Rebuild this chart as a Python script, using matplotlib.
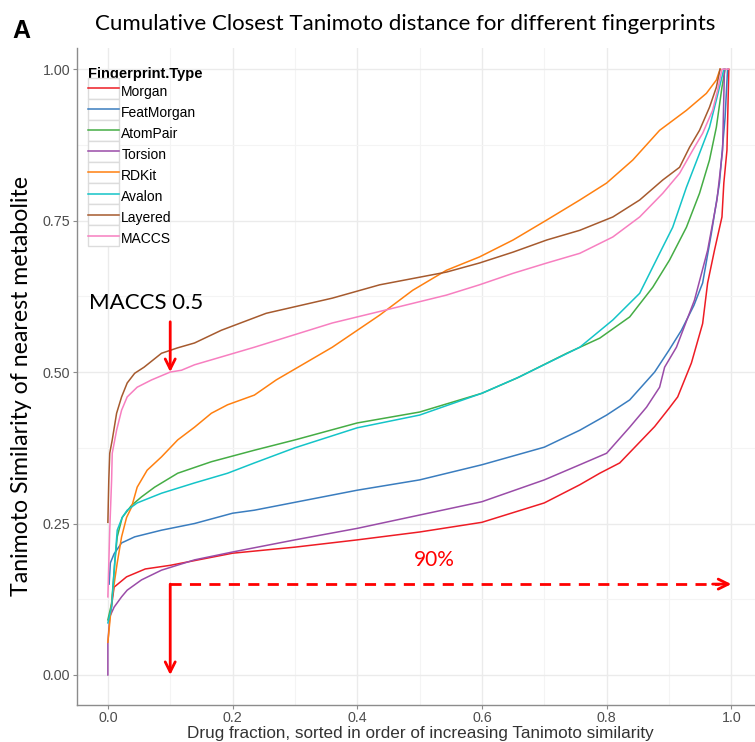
import numpy as np
import matplotlib
matplotlib.use('Agg')
import matplotlib.pyplot as plt
from matplotlib.legend_handler import HandlerLine2D
from matplotlib.patches import Rectangle
from matplotlib.ticker import MultipleLocator

# curve readings (drug fraction, closest Tanimoto similarity)
morgan_x = [0.004, 0.01, 0.03, 0.06, 0.1, 0.2, 0.3, 0.4, 0.5, 0.6, 0.7, 0.757, 0.789, 0.821, 0.877,
            0.9, 0.914, 0.936, 0.954, 0.962, 0.973, 0.985, 0.988, 0.993, 0.996]
morgan_y = [0.10, 0.145, 0.162, 0.175, 0.181, 0.201, 0.211, 0.223, 0.236, 0.252, 0.284, 0.314, 0.333, 0.35, 0.41,
            0.44, 0.459, 0.515, 0.58, 0.647, 0.701, 0.756, 0.812, 0.866, 1.0]

featmorgan_x = [0.002, 0.004, 0.01, 0.022, 0.043, 0.086, 0.139, 0.2, 0.235, 0.3, 0.4, 0.5, 0.6, 0.7, 0.757,
                0.8, 0.837, 0.877, 0.9, 0.92, 0.94, 0.954, 0.968, 0.981, 0.99, 0.994]
featmorgan_y = [0.15, 0.185, 0.2, 0.218, 0.228, 0.239, 0.25, 0.267, 0.272, 0.285, 0.305, 0.322, 0.347, 0.376, 0.404,
                0.429, 0.454, 0.5, 0.536, 0.569, 0.61, 0.647, 0.729, 0.812, 0.92, 1.0]

atompair_x = [0.0, 0.006, 0.011, 0.015, 0.023, 0.038, 0.054, 0.075, 0.112, 0.166, 0.235, 0.3, 0.4, 0.5, 0.6,
              0.656, 0.736, 0.789, 0.837, 0.874, 0.901, 0.928, 0.949, 0.965, 0.976, 0.985, 0.99]
atompair_y = [0.091, 0.118, 0.185, 0.228, 0.26, 0.28, 0.294, 0.31, 0.333, 0.352, 0.371, 0.388, 0.416, 0.434, 0.465,
              0.49, 0.531, 0.556, 0.591, 0.64, 0.685, 0.739, 0.795, 0.85, 0.904, 0.97, 1.0]

torsion_x = [0.0, 0.0, 0.003, 0.01, 0.022, 0.031, 0.054, 0.086, 0.139, 0.2, 0.3, 0.4, 0.5, 0.6, 0.7, 0.757,
             0.8, 0.837, 0.864, 0.885, 0.893, 0.912, 0.941, 0.962, 0.977, 0.986, 0.989]
torsion_y = [0.0, 0.053, 0.096, 0.112, 0.129, 0.14, 0.157, 0.173, 0.19, 0.203, 0.223, 0.242, 0.264, 0.286, 0.322, 0.347,
             0.366, 0.409, 0.442, 0.475, 0.508, 0.541, 0.619, 0.701, 0.784, 0.866, 1.0]

rdkit_x = [0.0, 0.003, 0.007, 0.015, 0.022, 0.03, 0.038, 0.047, 0.063, 0.086, 0.112, 0.139, 0.166, 0.192, 0.235,
           0.27, 0.36, 0.436, 0.489, 0.543, 0.596, 0.65, 0.704, 0.757, 0.8, 0.842, 0.885, 0.928, 0.96, 0.976, 0.982]
rdkit_y = [0.054, 0.086, 0.129, 0.185, 0.228, 0.26, 0.277, 0.31, 0.338, 0.36, 0.388, 0.409, 0.432, 0.446, 0.462,
           0.487, 0.541, 0.594, 0.635, 0.668, 0.69, 0.718, 0.751, 0.784, 0.812, 0.85, 0.899, 0.932, 0.96, 0.982, 1.0]

avalon_x = [0.0, 0.006, 0.011, 0.015, 0.023, 0.031, 0.047, 0.086, 0.139, 0.192, 0.235, 0.3, 0.4, 0.5, 0.6,
            0.66, 0.757, 0.81, 0.853, 0.885, 0.906, 0.928, 0.949, 0.965, 0.976, 0.985, 0.988]
avalon_y = [0.086, 0.112, 0.185, 0.239, 0.26, 0.272, 0.284, 0.3, 0.317, 0.333, 0.35, 0.375, 0.408, 0.429, 0.465,
            0.492, 0.541, 0.586, 0.63, 0.696, 0.739, 0.805, 0.861, 0.904, 0.949, 0.987, 1.0]

layered_x = [0.0, 0.0015, 0.003, 0.007, 0.014, 0.022, 0.031, 0.043, 0.058, 0.086, 0.112, 0.139, 0.182, 0.254,
             0.36, 0.436, 0.543, 0.596, 0.65, 0.704, 0.757, 0.81, 0.853, 0.89, 0.917, 0.933, 0.949, 0.965,
             0.976, 0.982]
layered_y = [0.252, 0.322, 0.366, 0.388, 0.432, 0.459, 0.482, 0.498, 0.508, 0.531, 0.54, 0.548, 0.569, 0.597,
             0.622, 0.644, 0.665, 0.68, 0.698, 0.718, 0.734, 0.756, 0.784, 0.817, 0.838, 0.871, 0.899, 0.937,
             0.97, 1.0]

maccs_x = [0.0, 0.003, 0.006, 0.007, 0.014, 0.022, 0.031, 0.047, 0.07, 0.1, 0.118, 0.139, 0.192, 0.235, 0.36,
           0.436, 0.543, 0.596, 0.65, 0.704, 0.757, 0.81, 0.853, 0.89, 0.917, 0.938, 0.954, 0.97, 0.978, 0.985,
           0.995]
maccs_y = [0.129, 0.239, 0.322, 0.366, 0.404, 0.437, 0.459, 0.475, 0.487, 0.5, 0.503, 0.512, 0.528, 0.541, 0.581,
           0.6, 0.627, 0.644, 0.663, 0.68, 0.696, 0.723, 0.756, 0.795, 0.828, 0.866, 0.894, 0.932, 0.965, 1.0,
           1.0]

fp_names = ['Morgan', 'FeatMorgan', 'AtomPair', 'Torsion', 'RDKit', 'Avalon', 'Layered', 'MACCS']
fp_colors = ['#ee1c25', '#3a7dbf', '#45ad45', '#9a4ca8', '#ff8010', '#14c4c8', '#a65a2e', '#f77fc0']
curves_x = [morgan_x, featmorgan_x, atompair_x, torsion_x, rdkit_x, avalon_x, layered_x, maccs_x]
curves_y = [morgan_y, featmorgan_y, atompair_y, torsion_y, rdkit_y, avalon_y, layered_y, maccs_y]

# annotation anchors
maccs_mark = (0.1, 0.5)
cut_frac = 0.1
cut_sim = 0.15


class BoxedLine(HandlerLine2D):
    # ggplot-like legend key: grey bordered box centred on the line
    def create_artists(self, legend, orig_handle, xdescent, ydescent, width, height, fontsize, trans):
        arts = super().create_artists(legend, orig_handle, xdescent, ydescent, width, height, fontsize, trans)
        yc = (height - ydescent) / 2
        box = Rectangle((-xdescent, yc - height / 2), width, height, facecolor='white',
                        edgecolor='#dcdcdc', linewidth=1.0, transform=trans)
        return [box] + list(arts)


fig = plt.figure(figsize=(7.55, 7.42), dpi=100)
ax = fig.add_axes([0.102, 0.0499, 0.898, 0.8855])

for xs, ys, name, col in zip(curves_x, curves_y, fp_names, fp_colors):
    ax.plot(xs, ys, color=col, lw=1.1, label=name)

ax.set_xlim(-0.0495, 1.038)
ax.set_ylim(-0.0495, 1.035)
ax.xaxis.set_major_locator(MultipleLocator(0.2))
ax.xaxis.set_minor_locator(MultipleLocator(0.1))
ax.yaxis.set_major_locator(MultipleLocator(0.25))
ax.yaxis.set_minor_locator(MultipleLocator(0.125))
ax.xaxis.set_major_formatter(plt.FuncFormatter(lambda v, p: '%.1f' % v))
ax.yaxis.set_major_formatter(plt.FuncFormatter(lambda v, p: '%.2f' % v))
ax.grid(which='major', color='#ebebeb', lw=1.0)
ax.grid(which='minor', color='#f4f4f4', lw=0.8)
ax.set_axisbelow(True)
for s in ['top', 'right']:
    ax.spines[s].set_visible(False)
for s in ['left', 'bottom']:
    ax.spines[s].set_color('#8c8c8c')
    ax.spines[s].set_linewidth(1.0)
ax.tick_params(which='major', length=3, pad=2, color='#8c8c8c', labelsize=10.3, labelcolor='#4d4d4d')
ax.tick_params(axis='x', pad=1.5)
ax.tick_params(which='minor', length=0)
for lab in ax.get_xticklabels() + ax.get_yticklabels():
    lab.set_family('Liberation Sans')

fig.text(420 / 755, 1 - 738 / 742, 'Drug fraction, sorted in order of increasing Tanimoto similarity',
         family='Liberation Sans', fontsize=12.3, color='#333333', ha='center', va='baseline')
fig.text(22 / 755, 1 - 386 / 742, 'Tanimoto Similarity of nearest metabolite', family='Lato',
         fontsize=16.7, rotation=90, ha='center', va='center')
fig.text(405 / 755, 1 - 24 / 742, 'Cumulative Closest Tanimoto distance for different fingerprints',
         family='Lato', fontsize=16, ha='center', va='center')
fig.text(0.016, 1 - 31 / 742, 'A', family='Liberation Sans', fontweight='bold', fontsize=18, va='center')

# annotations
red = '#ff0000'
ax.text(0.062, 0.614, 'MACCS 0.5', family='Lato', fontsize=16, ha='center', va='center')
ax.annotate('', xy=maccs_mark, xytext=(maccs_mark[0], 0.583),
            arrowprops=dict(arrowstyle='->', color=red, lw=2, mutation_scale=18, shrinkA=0, shrinkB=0))
ax.annotate('', xy=(cut_frac, 0.0), xytext=(cut_frac, cut_sim),
            arrowprops=dict(arrowstyle='->', color=red, lw=2, mutation_scale=18, shrinkA=0, shrinkB=0))
ax.plot([cut_frac, 0.98], [cut_sim, cut_sim], color=red, lw=2, ls=(0, (4, 3)))
ax.annotate('', xy=(1.0, cut_sim), xytext=(0.97, cut_sim),
            arrowprops=dict(arrowstyle='->', color=red, lw=2, mutation_scale=18, shrinkA=0, shrinkB=0))
ax.text(0.524, 0.19, '90%', family='Lato', fontsize=15, color=red, ha='center', va='center')

leg = ax.legend(loc='upper left', bbox_to_anchor=(88 / 755, 1 - 67 / 742), bbox_transform=fig.transFigure,
                frameon=False, title='Fingerprint.Type', handlelength=2.2, handleheight=1.95,
                labelspacing=0.0, handletextpad=0.2, borderpad=0, borderaxespad=0,
                handler_map={plt.Line2D: BoxedLine()}, prop={'family': 'Liberation Sans', 'size': 10})
leg.get_title().set_fontweight('bold')
leg.get_title().set_family('Liberation Sans')
leg.get_title().set_fontsize(10.5)
leg._legend_box.align = 'left'

fig.savefig('out.png', dpi=100)
